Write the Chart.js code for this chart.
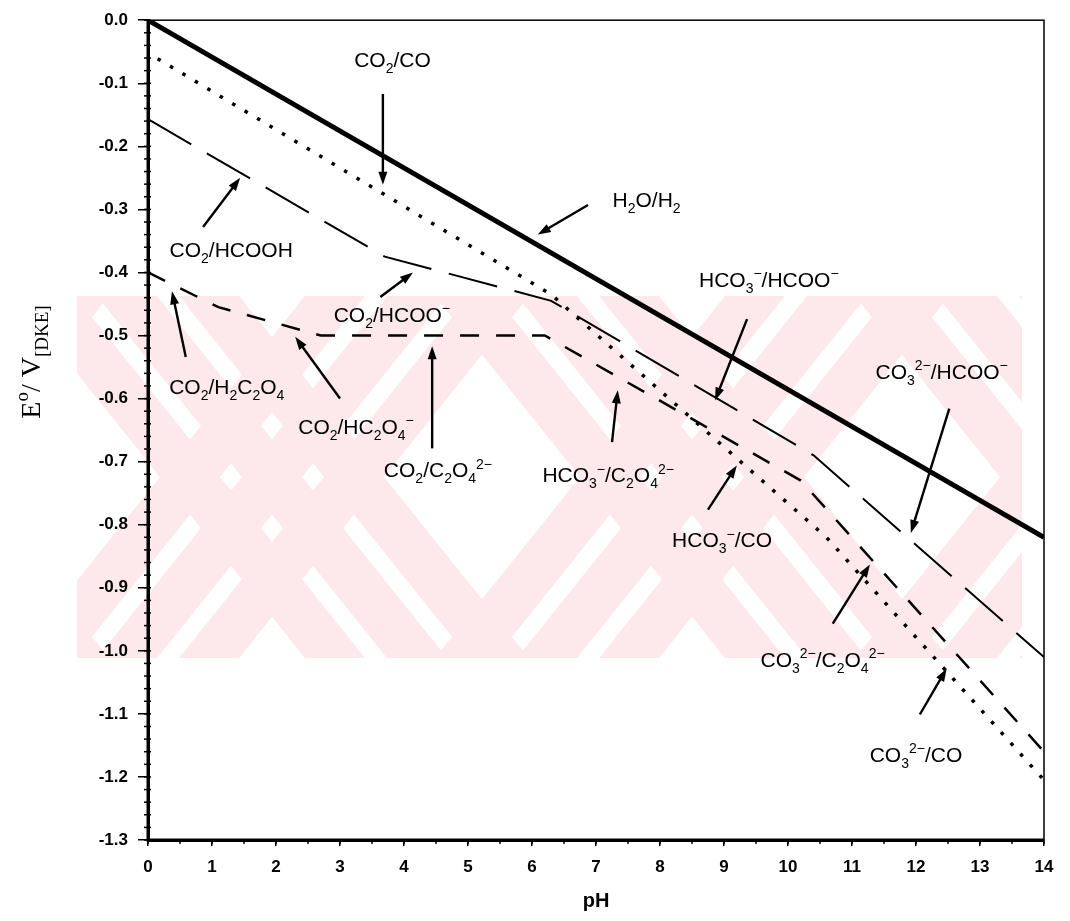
<!DOCTYPE html>
<html>
<head>
<meta charset="utf-8">
<script src="https://cdn.jsdelivr.net/npm/chart.js@4.4.0/dist/chart.umd.min.js"></script>
<style>
  html, body { margin: 0; padding: 0; background: #fff; }
  canvas { display: block; }
</style>
</head>
<body>
<canvas id="chart" width="1070" height="921"></canvas>
<script>
// Standard potentials (V vs. DKE) against pH, breakpoints
const waterPH = [0, 14];
const waterE = [0.0, -0.82];

const coPH = [0.15, 6.3, 10.6, 14];
const coE = [-0.061, -0.435, -0.82, -1.205];

const formatePH = [0, 3.7, 6.3, 10.4, 14];
const formateE = [-0.157, -0.375, -0.445, -0.69, -1.01];

const oxalatePH = [0, 1.1, 2.7, 6.2, 10.2, 14];
const oxalateE = [-0.40, -0.455, -0.50, -0.50, -0.73, -1.16];

// Axis ranges
const pHRange = [0, 14];
const eRange = [-1.3, 0.0];

// Couple labels: text position and arrow tail -> head, all in (pH, E)
const couples = [
  { text: 'CO_{2}/CO', at: [3.82, -0.062], tail: [3.67, -0.117], head: [3.67, -0.261] },
  { text: 'H_{2}O/H_{2}', at: [7.79, -0.285], tail: [6.875, -0.293], head: [6.09, -0.340] },
  { text: 'CO_{2}/HCOOH', at: [1.30, -0.364], tail: [0.86, -0.328], head: [1.44, -0.250] },
  { text: 'CO_{2}/HCOO^{−}', at: [3.81, -0.466], tail: [3.63, -0.439], head: [4.14, -0.400] },
  { text: 'CO_{2}/H_{2}C_{2}O_{4}', at: [1.23, -0.581], tail: [0.59, -0.534], head: [0.375, -0.430] },
  { text: 'CO_{2}/HC_{2}O_{4}^{−}', at: [3.25, -0.644], tail: [3.0, -0.600], head: [2.3, -0.502] },
  { text: 'CO_{2}/C_{2}O_{4}^{2−}', at: [4.53, -0.713], tail: [4.44, -0.679], head: [4.44, -0.517] },
  { text: 'HCO_{3}^{−}/C_{2}O_{4}^{2−}', at: [7.19, -0.721], tail: [7.25, -0.669], head: [7.34, -0.587] },
  { text: 'HCO_{3}^{−}/HCOO^{−}', at: [9.70, -0.411], tail: [9.36, -0.474], head: [8.86, -0.603] },
  { text: 'HCO_{3}^{−}/CO', at: [8.97, -0.824], tail: [8.75, -0.776], head: [9.2, -0.706] },
  { text: 'CO_{3}^{2−}/HCOO^{−}', at: [12.40, -0.557], tail: [12.52, -0.616], head: [11.92, -0.813] },
  { text: 'CO_{3}^{2−}/C_{2}O_{4}^{2−}', at: [10.54, -1.014], tail: [10.7, -0.957], head: [11.28, -0.863] },
  { text: 'CO_{3}^{2−}/CO', at: [12.0, -1.164], tail: [12.06, -1.101], head: [12.48, -1.028] }
];

const SANS = '"Liberation Sans", Arial, sans-serif';
const SERIF = '"Liberation Serif", "Times New Roman", serif';

function toPoints(xs, ys) {
  return xs.map((x, i) => ({ x: x, y: ys[i] }));
}

// "CO_{2}/HCOO^{-}" -> runs of normal / sub / sup text
function parseRich(s) {
  const runs = [];
  const re = /([_^])\{([^}]*)\}/g;
  let last = 0, m;
  while ((m = re.exec(s))) {
    if (m.index > last) runs.push({ t: s.slice(last, m.index), k: 0 });
    runs.push({ t: m[2], k: m[1] === '_' ? 1 : -1 });
    last = re.lastIndex;
  }
  if (last < s.length) runs.push({ t: s.slice(last), k: 0 });
  return runs;
}

function drawRich(ctx, s, x, y, size, family, weight) {
  const runs = parseRich(s);
  const small = Math.round(size * 0.68);
  weight = weight || 'normal';
  let w = 0;
  runs.forEach(r => {
    ctx.font = `${weight} ${r.k ? small : size}px ${family}`;
    r.w = ctx.measureText(r.t).width;
    w += r.w;
  });
  let cx = x - w / 2;
  ctx.textAlign = 'left';
  ctx.textBaseline = 'alphabetic';
  runs.forEach(r => {
    ctx.font = `${weight} ${r.k ? small : size}px ${family}`;
    const dy = r.k === 1 ? size * 0.28 : r.k === -1 ? -size * 0.42 : 0;
    ctx.fillText(r.t, cx, y + size * 0.36 + dy);
    cx += r.w;
  });
}

function drawArrow(ctx, x1, y1, x2, y2) {
  const ang = Math.atan2(y2 - y1, x2 - x1);
  const len = 13, half = 4.5;
  ctx.beginPath();
  ctx.moveTo(x1, y1);
  ctx.lineTo(x2 - Math.cos(ang) * len * 0.8, y2 - Math.sin(ang) * len * 0.8);
  ctx.stroke();
  ctx.beginPath();
  ctx.moveTo(x2, y2);
  ctx.lineTo(x2 - Math.cos(ang) * len + Math.sin(ang) * half, y2 - Math.sin(ang) * len - Math.cos(ang) * half);
  ctx.lineTo(x2 - Math.cos(ang) * len - Math.sin(ang) * half, y2 - Math.sin(ang) * len + Math.cos(ang) * half);
  ctx.closePath();
  ctx.fill();
}

// faint pink scanner watermark behind the plot: striped "X" shapes
function drawWatermark(ctx) {
  const x0 = 77, y0 = 296, x1 = 1022, y1 = 658;
  const h = y1 - y0, run = 290;
  ctx.save();
  ctx.beginPath();
  ctx.rect(x0, y0, x1 - x0, h);
  ctx.clip();
  ctx.fillStyle = '#fde8eb';
  const stripe = (xt, w, dir) => {
    ctx.beginPath();
    ctx.moveTo(xt, y0);
    ctx.lineTo(xt + w, y0);
    ctx.lineTo(xt + w + dir * run, y1);
    ctx.lineTo(xt + dir * run, y1);
    ctx.closePath();
    ctx.fill();
  };
  [-150, 270, 690, 1110].forEach(cx => {
    for (let i = 0; i < 3; i++) {
      const off = -110 + i * 82;
      stripe(cx - run / 2 + off, 60, 1);
      stripe(cx + run / 2 + off, 60, -1);
    }
  });
  ctx.restore();
}

const decor = {
  id: 'decor',
  beforeDraw(chart) {
    drawWatermark(chart.ctx);
  },
  afterDraw(chart) {
    const ctx = chart.ctx;
    const xs = chart.scales.x, ys = chart.scales.y;
    const a = chart.chartArea;
    ctx.save();
    ctx.strokeStyle = '#000';
    ctx.fillStyle = '#000';

    // frame: thin top/right, heavy left/bottom
    ctx.lineWidth = 1.5;
    ctx.strokeRect(a.left, a.top, a.right - a.left, a.bottom - a.top);
    ctx.lineWidth = 3;
    ctx.beginPath();
    ctx.moveTo(a.left, a.top);
    ctx.lineTo(a.left, a.bottom);
    ctx.lineTo(a.right, a.bottom);
    ctx.stroke();

    // minor ticks
    ctx.lineWidth = 1.5;
    for (let v = 0; v >= eRange[0] - 1e-9; v -= 0.02) {
      const y = ys.getPixelForValue(v);
      ctx.beginPath();
      ctx.moveTo(a.left - 4, y);
      ctx.lineTo(a.left + 3, y);
      ctx.stroke();
    }
    for (let v = pHRange[0]; v <= pHRange[1] + 1e-9; v += 0.5) {
      const x = xs.getPixelForValue(v);
      ctx.beginPath();
      ctx.moveTo(x, a.bottom);
      ctx.lineTo(x, a.bottom + 4);
      ctx.stroke();
    }

    // couple labels with arrows
    ctx.lineWidth = 2.4;
    couples.forEach(c => {
      drawArrow(ctx,
        xs.getPixelForValue(c.tail[0]), ys.getPixelForValue(c.tail[1]),
        xs.getPixelForValue(c.head[0]), ys.getPixelForValue(c.head[1]));
      drawRich(ctx, c.text, xs.getPixelForValue(c.at[0]), ys.getPixelForValue(c.at[1]), 21, SANS);
    });

    // axis titles
    drawRich(ctx, 'pH', (a.left + a.right) / 2, 900, 20, SANS, 'bold');
    ctx.save();
    ctx.translate(30, 362);
    ctx.rotate(-Math.PI / 2);
    drawRich(ctx, 'E^{o}/ V_{[DKE]}', 0, 0, 28, SERIF);
    ctx.restore();

    ctx.restore();
  }
};

new Chart(document.getElementById('chart').getContext('2d'), {
  type: 'line',
  data: {
    datasets: [
      {
        label: 'H2O/H2',
        data: toPoints(waterPH, waterE),
        borderColor: '#000',
        borderWidth: 5,
        pointRadius: 0
      },
      {
        label: 'CO2/CO',
        data: toPoints(coPH, coE),
        borderColor: '#000',
        borderWidth: 3.5,
        borderDash: [3.5, 11],
        pointRadius: 0
      },
      {
        label: 'CO2/formate',
        data: toPoints(formatePH, formateE),
        borderColor: '#000',
        borderWidth: 2,
        borderDash: [50, 18],
        pointRadius: 0
      },
      {
        label: 'CO2/oxalate',
        data: toPoints(oxalatePH, oxalateE),
        borderColor: '#000',
        borderWidth: 2.5,
        borderDash: [19, 17],
        pointRadius: 0
      }
    ]
  },
  options: {
    responsive: false,
    animation: false,
    devicePixelRatio: 1,
    layout: { padding: { top: 14, right: 26, left: 0, bottom: 0 } },
    plugins: {
      legend: { display: false },
      tooltip: { enabled: false }
    },
    elements: { line: { tension: 0, fill: false } },
    scales: {
      x: {
        type: 'linear',
        min: pHRange[0],
        max: pHRange[1],
        afterFit: s => { s.height = 81; },
        ticks: {
          stepSize: 1,
          color: '#000',
          padding: 11,
          font: { family: SANS, size: 17, weight: 'bold' }
        },
        grid: { drawOnChartArea: false, color: '#000', lineWidth: 1.5, tickLength: 6 },
        border: { color: '#000', width: 3 }
      },
      y: {
        type: 'linear',
        min: eRange[0],
        max: eRange[1],
        afterFit: s => { s.width = 148; },
        ticks: {
          stepSize: 0.1,
          color: '#000',
          padding: 10,
          font: { family: SANS, size: 17, weight: 'bold' },
          callback: v => (Math.abs(v) < 1e-9 ? 0 : v).toFixed(1)
        },
        grid: { drawOnChartArea: false, color: '#000', lineWidth: 1.5, tickLength: 10 },
        border: { color: '#000', width: 3 }
      }
    }
  },
  plugins: [decor]
});
</script>
</body>
</html>
